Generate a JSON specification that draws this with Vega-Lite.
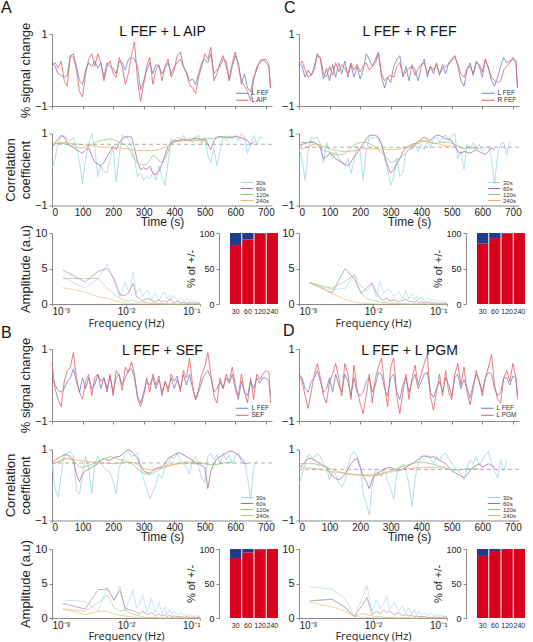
{
"$schema": "https://vega.github.io/schema/vega-lite/v6.json",
"background": "white",
"padding": {"left": 1, "top": 0, "right": 1, "bottom": 0},
"datasets": {
"sigA": [{"t":0,"f":0.2,"r":0.15},{"t":10,"f":0.1,"r":0.2},{"t":20,"f":-0.1,"r":0.05},{"t":30,"f":-0.15,"r":0.25},{"t":40,"f":-0.2,"r":-0.3},{"t":50,"f":-0.15,"r":-0.45},{"t":60,"f":0.4,"r":0.4},{"t":70,"f":0.45,"r":0.35},{"t":80,"f":0.1,"r":0.0},{"t":90,"f":-0.3,"r":-0.6},{"t":100,"f":-0.4,"r":-0.75},{"t":110,"f":0.0,"r":-0.1},{"t":120,"f":0.2,"r":0.3},{"t":130,"f":0.1,"r":0.45},{"t":140,"f":0.25,"r":0.1},{"t":150,"f":0.05,"r":0.45},{"t":160,"f":0.2,"r":0.2},{"t":170,"f":-0.2,"r":-0.3},{"t":180,"f":0.2,"r":0.1},{"t":190,"f":0.1,"r":0.25},{"t":200,"f":0.05,"r":-0.1},{"t":210,"f":-0.1,"r":-0.2},{"t":220,"f":0.25,"r":0.35},{"t":230,"f":0.2,"r":0.1},{"t":240,"f":0.0,"r":-0.4},{"t":250,"f":0.3,"r":-0.1},{"t":260,"f":0.35,"r":0.4},{"t":270,"f":0.3,"r":0.78},{"t":280,"f":0.1,"r":-0.3},{"t":290,"f":-0.55,"r":-0.87},{"t":300,"f":-0.3,"r":-0.4},{"t":310,"f":0.0,"r":0.1},{"t":320,"f":0.2,"r":0.35},{"t":330,"f":-0.1,"r":-0.4},{"t":340,"f":0.15,"r":0.0},{"t":350,"f":0.1,"r":0.15},{"t":360,"f":-0.1,"r":-0.3},{"t":370,"f":0.05,"r":0.1},{"t":380,"f":0.2,"r":0.3},{"t":390,"f":-0.1,"r":-0.2},{"t":400,"f":0.1,"r":0.0},{"t":410,"f":0.2,"r":0.4},{"t":420,"f":0.3,"r":0.5},{"t":430,"f":0.1,"r":0.1},{"t":440,"f":-0.05,"r":-0.1},{"t":450,"f":-0.3,"r":-0.4},{"t":460,"f":-0.25,"r":-0.5},{"t":470,"f":-0.4,"r":-0.65},{"t":480,"f":-0.1,"r":-0.2},{"t":490,"f":0.2,"r":0.1},{"t":500,"f":0.3,"r":0.45},{"t":510,"f":0.2,"r":0.3},{"t":520,"f":0.45,"r":0.63},{"t":530,"f":-0.1,"r":-0.3},{"t":540,"f":0.0,"r":-0.1},{"t":550,"f":0.1,"r":0.2},{"t":560,"f":0.3,"r":0.4},{"t":570,"f":0.25,"r":0.1},{"t":580,"f":-0.3,"r":-0.25},{"t":590,"f":0.1,"r":0.2},{"t":600,"f":0.4,"r":0.5},{"t":610,"f":0.2,"r":0.1},{"t":620,"f":-0.4,"r":-0.3},{"t":630,"f":-0.1,"r":-0.45},{"t":640,"f":-0.5,"r":-0.6},{"t":650,"f":-0.6,"r":-0.85},{"t":660,"f":-0.2,"r":-0.3},{"t":670,"f":0.0,"r":0.1},{"t":680,"f":0.25,"r":0.2},{"t":690,"f":0.3,"r":0.27},{"t":700,"f":0.2,"r":0.3},{"t":710,"f":0.1,"r":0.15},{"t":715,"f":-0.5,"r":-0.5}],
"sigC": [{"t":0,"f":0.2,"r":0.15},{"t":10,"f":0.1,"r":0.25},{"t":20,"f":-0.2,"r":0.0},{"t":30,"f":0.0,"r":-0.2},{"t":40,"f":-0.15,"r":-0.15},{"t":50,"f":0.1,"r":0.0},{"t":60,"f":0.45,"r":0.4},{"t":70,"f":0.3,"r":0.35},{"t":80,"f":-0.25,"r":-0.1},{"t":90,"f":0.05,"r":-0.2},{"t":100,"f":-0.3,"r":0.1},{"t":110,"f":0.15,"r":-0.15},{"t":120,"f":-0.2,"r":0.2},{"t":130,"f":0.2,"r":-0.05},{"t":140,"f":-0.1,"r":0.15},{"t":150,"f":0.25,"r":0.05},{"t":160,"f":-0.2,"r":-0.1},{"t":170,"f":0.15,"r":0.2},{"t":180,"f":-0.2,"r":0.0},{"t":190,"f":0.1,"r":0.15},{"t":200,"f":-0.25,"r":-0.05},{"t":210,"f":0.0,"r":0.1},{"t":220,"f":0.45,"r":0.2},{"t":230,"f":0.3,"r":0.0},{"t":240,"f":0.1,"r":0.1},{"t":250,"f":0.3,"r":0.2},{"t":260,"f":0.5,"r":0.45},{"t":270,"f":-0.2,"r":-0.1},{"t":280,"f":-0.5,"r":-0.3},{"t":290,"f":-0.2,"r":-0.2},{"t":300,"f":-0.35,"r":-0.15},{"t":310,"f":0.1,"r":-0.2},{"t":320,"f":0.3,"r":0.1},{"t":330,"f":0.4,"r":0.2},{"t":340,"f":-0.2,"r":-0.15},{"t":350,"f":0.1,"r":-0.05},{"t":360,"f":-0.3,"r":0.05},{"t":370,"f":0.15,"r":0.1},{"t":380,"f":0.0,"r":-0.15},{"t":390,"f":-0.3,"r":0.05},{"t":400,"f":0.1,"r":0.15},{"t":410,"f":0.3,"r":0.2},{"t":420,"f":-0.2,"r":-0.1},{"t":430,"f":0.1,"r":0.1},{"t":440,"f":-0.1,"r":0.0},{"t":450,"f":0.2,"r":0.15},{"t":460,"f":-0.15,"r":-0.1},{"t":470,"f":0.15,"r":0.05},{"t":480,"f":-0.1,"r":0.1},{"t":490,"f":0.2,"r":0.15},{"t":500,"f":0.3,"r":0.25},{"t":510,"f":0.4,"r":0.38},{"t":520,"f":0.1,"r":0.15},{"t":530,"f":-0.3,"r":-0.1},{"t":540,"f":-0.45,"r":-0.2},{"t":550,"f":0.0,"r":0.05},{"t":560,"f":0.2,"r":0.1},{"t":570,"f":-0.15,"r":-0.1},{"t":580,"f":0.25,"r":0.2},{"t":590,"f":0.1,"r":0.15},{"t":600,"f":-0.2,"r":-0.05},{"t":610,"f":0.3,"r":0.3},{"t":620,"f":0.05,"r":0.05},{"t":630,"f":-0.3,"r":-0.2},{"t":640,"f":-0.45,"r":-0.3},{"t":650,"f":-0.2,"r":-0.35},{"t":660,"f":0.1,"r":-0.3},{"t":670,"f":0.35,"r":0.0},{"t":680,"f":0.2,"r":0.1},{"t":690,"f":0.25,"r":0.2},{"t":700,"f":0.3,"r":0.35},{"t":710,"f":0.2,"r":0.25},{"t":715,"f":-0.5,"r":-0.5}],
"sigB": [{"t":0,"f":0.2,"r":0.6},{"t":10,"f":0.0,"r":-0.1},{"t":20,"f":-0.15,"r":-0.4},{"t":30,"f":-0.2,"r":-0.6},{"t":40,"f":-0.1,"r":0.1},{"t":50,"f":0.1,"r":0.4},{"t":60,"f":0.2,"r":0.5},{"t":70,"f":0.45,"r":0.9},{"t":80,"f":0.1,"r":0.2},{"t":90,"f":-0.2,"r":-0.2},{"t":100,"f":0.2,"r":-0.4},{"t":110,"f":-0.1,"r":0.1},{"t":120,"f":0.2,"r":0.3},{"t":130,"f":-0.1,"r":-0.3},{"t":140,"f":0.0,"r":0.2},{"t":150,"f":0.3,"r":0.3},{"t":160,"f":-0.1,"r":0.1},{"t":170,"f":0.2,"r":0.2},{"t":180,"f":-0.1,"r":-0.2},{"t":190,"f":0.25,"r":0.3},{"t":200,"f":-0.2,"r":-0.3},{"t":210,"f":0.2,"r":0.4},{"t":220,"f":0.3,"r":0.25},{"t":230,"f":0.0,"r":-0.15},{"t":240,"f":0.2,"r":0.5},{"t":250,"f":0.4,"r":0.35},{"t":260,"f":0.45,"r":0.65},{"t":270,"f":0.2,"r":0.3},{"t":280,"f":-0.3,"r":-0.4},{"t":290,"f":-0.5,"r":-0.6},{"t":300,"f":-0.2,"r":-0.3},{"t":310,"f":0.1,"r":0.2},{"t":320,"f":0.0,"r":-0.2},{"t":330,"f":0.2,"r":0.3},{"t":340,"f":-0.1,"r":0.0},{"t":350,"f":0.15,"r":0.25},{"t":360,"f":-0.2,"r":-0.3},{"t":370,"f":0.1,"r":0.1},{"t":380,"f":-0.1,"r":-0.2},{"t":390,"f":0.2,"r":0.3},{"t":400,"f":-0.1,"r":0.1},{"t":410,"f":0.15,"r":0.25},{"t":420,"f":-0.1,"r":-0.2},{"t":430,"f":0.3,"r":0.4},{"t":440,"f":0.0,"r":0.2},{"t":450,"f":0.3,"r":0.75},{"t":460,"f":-0.1,"r":0.0},{"t":470,"f":-0.4,"r":-0.4},{"t":480,"f":-0.2,"r":-0.1},{"t":490,"f":0.1,"r":0.3},{"t":500,"f":0.3,"r":0.5},{"t":510,"f":0.4,"r":0.9},{"t":520,"f":0.2,"r":0.3},{"t":530,"f":-0.2,"r":-0.3},{"t":540,"f":-0.1,"r":-0.5},{"t":550,"f":0.1,"r":0.2},{"t":560,"f":-0.1,"r":-0.1},{"t":570,"f":0.2,"r":0.3},{"t":580,"f":0.05,"r":0.1},{"t":590,"f":0.3,"r":0.5},{"t":600,"f":-0.1,"r":0.0},{"t":610,"f":-0.4,"r":-0.3},{"t":620,"f":0.1,"r":0.3},{"t":630,"f":-0.2,"r":-0.2},{"t":640,"f":-0.3,"r":-0.5},{"t":650,"f":0.1,"r":0.2},{"t":660,"f":-0.1,"r":-0.4},{"t":670,"f":0.2,"r":0.3},{"t":680,"f":0.05,"r":0.15},{"t":690,"f":0.2,"r":0.3},{"t":700,"f":0.2,"r":0.4},{"t":710,"f":0.1,"r":0.35},{"t":715,"f":-0.3,"r":-0.5}],
"sigD": [{"t":0,"f":0.3,"r":0.3},{"t":10,"f":0.2,"r":0.1},{"t":20,"f":-0.1,"r":-0.3},{"t":30,"f":-0.2,"r":-0.65},{"t":40,"f":0.1,"r":-0.2},{"t":50,"f":0.2,"r":0.3},{"t":60,"f":0.4,"r":0.6},{"t":70,"f":0.1,"r":0.2},{"t":80,"f":-0.2,"r":-0.3},{"t":90,"f":-0.1,"r":-0.5},{"t":100,"f":0.2,"r":0.1},{"t":110,"f":-0.2,"r":0.3},{"t":120,"f":0.3,"r":0.6},{"t":130,"f":0.0,"r":0.2},{"t":140,"f":-0.2,"r":-0.3},{"t":150,"f":0.3,"r":0.6},{"t":160,"f":0.1,"r":0.3},{"t":170,"f":-0.3,"r":-0.4},{"t":180,"f":0.2,"r":0.55},{"t":190,"f":-0.2,"r":-0.1},{"t":200,"f":-0.3,"r":-0.5},{"t":210,"f":-0.2,"r":-0.8},{"t":220,"f":0.1,"r":-0.3},{"t":230,"f":0.2,"r":0.3},{"t":240,"f":-0.2,"r":-0.5},{"t":250,"f":0.0,"r":0.2},{"t":260,"f":0.35,"r":0.5},{"t":270,"f":0.3,"r":0.75},{"t":280,"f":-0.1,"r":0.0},{"t":290,"f":-0.3,"r":-0.6},{"t":300,"f":0.2,"r":0.5},{"t":310,"f":0.3,"r":0.75},{"t":320,"f":-0.2,"r":-0.3},{"t":330,"f":-0.4,"r":-0.8},{"t":340,"f":0.0,"r":-0.2},{"t":350,"f":0.2,"r":0.3},{"t":360,"f":-0.2,"r":-0.4},{"t":370,"f":0.1,"r":0.2},{"t":380,"f":0.3,"r":0.55},{"t":390,"f":-0.1,"r":0.0},{"t":400,"f":0.1,"r":0.3},{"t":410,"f":0.3,"r":0.6},{"t":420,"f":0.35,"r":0.85},{"t":430,"f":-0.2,"r":-0.3},{"t":440,"f":-0.35,"r":-0.7},{"t":450,"f":-0.1,"r":-0.2},{"t":460,"f":0.1,"r":0.3},{"t":470,"f":-0.2,"r":-0.3},{"t":480,"f":0.2,"r":0.4},{"t":490,"f":0.0,"r":-0.2},{"t":500,"f":-0.3,"r":-0.4},{"t":510,"f":0.2,"r":0.3},{"t":520,"f":0.3,"r":0.6},{"t":530,"f":-0.1,"r":0.0},{"t":540,"f":0.15,"r":0.5},{"t":550,"f":-0.1,"r":-0.2},{"t":560,"f":-0.35,"r":-0.55},{"t":570,"f":0.0,"r":-0.1},{"t":580,"f":0.3,"r":0.4},{"t":590,"f":0.1,"r":0.1},{"t":600,"f":-0.2,"r":-0.3},{"t":610,"f":0.2,"r":0.2},{"t":620,"f":0.35,"r":0.5},{"t":630,"f":0.3,"r":0.85},{"t":640,"f":-0.1,"r":0.0},{"t":650,"f":-0.3,"r":-0.4},{"t":660,"f":-0.2,"r":-0.5},{"t":670,"f":0.2,"r":0.2},{"t":680,"f":0.2,"r":0.4},{"t":690,"f":0.0,"r":0.1},{"t":700,"f":0.25,"r":0.6},{"t":710,"f":0.2,"r":0.2},{"t":715,"f":-0.3,"r":-0.4}],
"corA": [{"t":0,"a":0.0,"b":0.6,"c":0.7,"d":0.7},{"t":10,"a":0.3,"b":0.75,"c":0.72,"d":0.72},{"t":20,"a":0.75,"b":0.85,"c":0.72,"d":0.74},{"t":30,"a":0.9,"b":0.95,"c":0.73,"d":0.75},{"t":40,"a":0.95,"b":0.9,"c":0.72,"d":0.75},{"t":50,"a":0.85,"b":0.75,"c":0.7,"d":0.74},{"t":60,"a":0.8,"b":0.65,"c":0.68,"d":0.73},{"t":70,"a":0.9,"b":0.6,"c":0.65,"d":0.72},{"t":80,"a":0.6,"b":0.55,"c":0.62,"d":0.71},{"t":90,"a":0.2,"b":0.5,"c":0.6,"d":0.7},{"t":100,"a":-0.4,"b":0.45,"c":0.6,"d":0.69},{"t":110,"a":0.3,"b":0.55,"c":0.62,"d":0.68},{"t":120,"a":0.7,"b":0.6,"c":0.65,"d":0.67},{"t":130,"a":1.0,"b":0.4,"c":0.7,"d":0.66},{"t":140,"a":0.6,"b":0.2,"c":0.75,"d":0.65},{"t":150,"a":-0.2,"b":0.15,"c":0.78,"d":0.64},{"t":160,"a":0.1,"b":0.1,"c":0.8,"d":0.63},{"t":170,"a":-0.05,"b":0.2,"c":0.82,"d":0.62},{"t":180,"a":-0.1,"b":0.35,"c":0.84,"d":0.62},{"t":190,"a":0.3,"b":0.5,"c":0.85,"d":0.62},{"t":200,"a":0.6,"b":0.65,"c":0.83,"d":0.61},{"t":210,"a":-0.35,"b":0.55,"c":0.8,"d":0.6},{"t":220,"a":0.4,"b":0.75,"c":0.76,"d":0.6},{"t":230,"a":0.95,"b":0.85,"c":0.72,"d":0.59},{"t":240,"a":0.9,"b":0.9,"c":0.7,"d":0.58},{"t":250,"a":0.85,"b":0.92,"c":0.6,"d":0.57},{"t":260,"a":0.6,"b":0.9,"c":0.45,"d":0.55},{"t":270,"a":0.3,"b":0.6,"c":0.3,"d":0.53},{"t":280,"a":-0.2,"b":0.2,"c":0.2,"d":0.53},{"t":290,"a":-0.1,"b":0.0,"c":0.15,"d":0.53},{"t":300,"a":-0.3,"b":0.05,"c":0.12,"d":0.53},{"t":310,"a":-0.2,"b":0.0,"c":0.15,"d":0.53},{"t":320,"a":-0.25,"b":0.1,"c":0.25,"d":0.53},{"t":330,"a":-0.1,"b":-0.1,"c":0.4,"d":0.53},{"t":340,"a":-0.3,"b":-0.15,"c":0.35,"d":0.54},{"t":350,"a":0.1,"b":-0.05,"c":0.25,"d":0.55},{"t":360,"a":-0.2,"b":0.15,"c":0.2,"d":0.58},{"t":370,"a":-0.45,"b":0.4,"c":0.3,"d":0.62},{"t":380,"a":0.2,"b":0.65,"c":0.5,"d":0.66},{"t":390,"a":0.85,"b":0.75,"c":0.72,"d":0.72},{"t":400,"a":0.8,"b":0.8,"c":0.77,"d":0.76},{"t":410,"a":0.9,"b":0.8,"c":0.78,"d":0.78},{"t":420,"a":0.85,"b":0.82,"c":0.8,"d":0.79},{"t":430,"a":0.95,"b":0.85,"c":0.8,"d":0.8},{"t":440,"a":0.8,"b":0.82,"c":0.82,"d":0.8},{"t":450,"a":0.9,"b":0.8,"c":0.83,"d":0.8},{"t":460,"a":0.75,"b":0.85,"c":0.84,"d":0.8},{"t":470,"a":0.9,"b":0.88,"c":0.85,"d":0.8},{"t":480,"a":0.95,"b":0.85,"c":0.85,"d":0.8},{"t":490,"a":0.7,"b":0.83,"c":0.84,"d":0.8},{"t":500,"a":0.9,"b":0.85,"c":0.85,"d":0.8},{"t":510,"a":0.4,"b":0.7,"c":0.86,"d":0.8},{"t":520,"a":0.2,"b":0.55,"c":0.86,"d":null},{"t":530,"a":0.6,"b":0.8,"c":0.87,"d":null},{"t":540,"a":0.1,"b":0.9,"c":0.88,"d":null},{"t":550,"a":0.5,"b":0.92,"c":0.9,"d":null},{"t":560,"a":0.9,"b":0.9,"c":0.9,"d":null},{"t":570,"a":0.8,"b":0.9,"c":0.9,"d":null},{"t":580,"a":0.95,"b":0.88,"c":0.9,"d":null},{"t":590,"a":0.85,"b":0.9,"c":0.9,"d":null},{"t":600,"a":0.95,"b":0.92,"c":null,"d":null},{"t":610,"a":0.8,"b":0.9,"c":null,"d":null},{"t":620,"a":1.0,"b":0.88,"c":null,"d":null},{"t":630,"a":0.9,"b":0.85,"c":null,"d":null},{"t":640,"a":0.45,"b":0.8,"c":null,"d":null},{"t":650,"a":0.7,"b":0.7,"c":null,"d":null},{"t":660,"a":0.95,"b":0.75,"c":null,"d":null},{"t":670,"a":0.7,"b":null,"c":null,"d":null},{"t":680,"a":0.9,"b":null,"c":null,"d":null},{"t":690,"a":0.85,"b":null,"c":null,"d":null}],
"corC": [{"t":0,"a":0.6,"b":0.65,"c":0.75,"d":0.55},{"t":10,"a":0.3,"b":0.7,"c":0.75,"d":0.57},{"t":20,"a":-0.3,"b":0.72,"c":0.75,"d":0.6},{"t":30,"a":0.5,"b":0.75,"c":0.75,"d":0.63},{"t":40,"a":0.9,"b":0.78,"c":0.75,"d":0.67},{"t":50,"a":0.85,"b":0.75,"c":0.74,"d":0.7},{"t":60,"a":0.9,"b":0.7,"c":0.7,"d":0.7},{"t":70,"a":0.7,"b":0.6,"c":0.62,"d":0.68},{"t":80,"a":0.2,"b":0.3,"c":0.55,"d":0.64},{"t":90,"a":0.75,"b":0.35,"c":0.5,"d":0.6},{"t":100,"a":0.5,"b":0.45,"c":0.48,"d":0.58},{"t":110,"a":0.3,"b":0.4,"c":0.45,"d":0.56},{"t":120,"a":0.5,"b":0.3,"c":0.42,"d":0.54},{"t":130,"a":0.3,"b":0.25,"c":0.4,"d":0.52},{"t":140,"a":0.2,"b":0.2,"c":0.42,"d":0.5},{"t":150,"a":0.1,"b":0.15,"c":0.45,"d":0.5},{"t":160,"a":0.3,"b":0.1,"c":0.5,"d":0.5},{"t":170,"a":-0.1,"b":0.2,"c":0.6,"d":0.51},{"t":180,"a":0.2,"b":0.35,"c":0.68,"d":0.52},{"t":190,"a":0.65,"b":0.45,"c":0.72,"d":0.54},{"t":200,"a":0.5,"b":0.6,"c":0.75,"d":0.56},{"t":210,"a":-0.3,"b":0.7,"c":0.76,"d":0.57},{"t":220,"a":0.5,"b":0.85,"c":0.75,"d":0.58},{"t":230,"a":0.9,"b":0.95,"c":0.72,"d":0.58},{"t":240,"a":0.85,"b":0.95,"c":0.68,"d":0.58},{"t":250,"a":0.9,"b":0.95,"c":0.62,"d":0.58},{"t":260,"a":0.85,"b":0.9,"c":0.55,"d":0.57},{"t":270,"a":0.7,"b":0.7,"c":0.45,"d":0.56},{"t":280,"a":0.3,"b":0.4,"c":0.38,"d":0.56},{"t":290,"a":0.0,"b":0.1,"c":0.3,"d":0.55},{"t":300,"a":-0.45,"b":-0.1,"c":0.2,"d":0.55},{"t":310,"a":-0.2,"b":0.0,"c":0.22,"d":0.55},{"t":320,"a":0.3,"b":0.15,"c":0.28,"d":0.56},{"t":330,"a":-0.2,"b":0.3,"c":0.32,"d":0.58},{"t":340,"a":-0.1,"b":0.5,"c":0.38,"d":0.6},{"t":350,"a":0.5,"b":0.6,"c":0.45,"d":0.62},{"t":360,"a":0.6,"b":0.65,"c":0.55,"d":0.64},{"t":370,"a":0.55,"b":0.7,"c":0.62,"d":0.66},{"t":380,"a":0.7,"b":0.72,"c":0.7,"d":0.68},{"t":390,"a":0.5,"b":0.75,"c":0.78,"d":0.72},{"t":400,"a":0.7,"b":0.85,"c":0.8,"d":0.76},{"t":410,"a":0.55,"b":0.9,"c":0.8,"d":0.78},{"t":420,"a":0.8,"b":0.85,"c":0.78,"d":0.78},{"t":430,"a":0.6,"b":0.8,"c":0.75,"d":0.76},{"t":440,"a":0.85,"b":0.9,"c":0.72,"d":0.74},{"t":450,"a":0.9,"b":0.95,"c":0.72,"d":0.72},{"t":460,"a":0.75,"b":0.95,"c":0.74,"d":0.7},{"t":470,"a":0.9,"b":0.9,"c":0.75,"d":0.68},{"t":480,"a":0.95,"b":0.85,"c":0.76,"d":0.66},{"t":490,"a":0.8,"b":0.85,"c":0.75,"d":0.65},{"t":500,"a":0.95,"b":0.8,"c":0.73,"d":0.64},{"t":510,"a":1.0,"b":0.65,"c":0.7,"d":null},{"t":520,"a":0.3,"b":0.5,"c":0.65,"d":null},{"t":530,"a":0.5,"b":0.45,"c":0.6,"d":null},{"t":540,"a":0.0,"b":0.5,"c":0.58,"d":null},{"t":550,"a":0.7,"b":0.48,"c":0.6,"d":null},{"t":560,"a":0.55,"b":0.45,"c":0.62,"d":null},{"t":570,"a":0.75,"b":0.5,"c":0.6,"d":null},{"t":580,"a":0.6,"b":0.55,"c":0.58,"d":null},{"t":590,"a":0.7,"b":0.5,"c":0.6,"d":null},{"t":600,"a":0.5,"b":0.45,"c":null,"d":null},{"t":610,"a":0.6,"b":0.42,"c":null,"d":null},{"t":620,"a":0.65,"b":0.5,"c":null,"d":null},{"t":630,"a":0.3,"b":0.6,"c":null,"d":null},{"t":640,"a":-0.4,"b":0.55,"c":null,"d":null},{"t":650,"a":0.4,"b":null,"c":null,"d":null},{"t":660,"a":0.7,"b":null,"c":null,"d":null},{"t":670,"a":0.75,"b":null,"c":null,"d":null},{"t":680,"a":0.4,"b":null,"c":null,"d":null},{"t":690,"a":0.8,"b":null,"c":null,"d":null}],
"corB": [{"t":0,"a":0.7,"b":0.65,"c":0.6,"d":0.6},{"t":10,"a":-0.1,"b":0.7,"c":0.62,"d":0.62},{"t":20,"a":-0.35,"b":0.75,"c":0.66,"d":0.65},{"t":30,"a":0.3,"b":0.8,"c":0.7,"d":0.68},{"t":40,"a":0.85,"b":0.85,"c":0.74,"d":0.72},{"t":50,"a":0.9,"b":0.85,"c":0.75,"d":0.75},{"t":60,"a":0.95,"b":0.8,"c":0.72,"d":0.74},{"t":70,"a":0.85,"b":0.7,"c":0.66,"d":0.72},{"t":80,"a":-0.15,"b":0.3,"c":0.6,"d":0.7},{"t":90,"a":-0.25,"b":0.1,"c":0.52,"d":0.69},{"t":100,"a":0.3,"b":0.3,"c":0.5,"d":0.68},{"t":110,"a":0.8,"b":0.4,"c":0.52,"d":0.67},{"t":120,"a":0.5,"b":0.45,"c":0.55,"d":0.66},{"t":130,"a":-0.25,"b":0.5,"c":0.58,"d":0.65},{"t":140,"a":0.6,"b":0.55,"c":0.62,"d":0.64},{"t":150,"a":0.8,"b":0.6,"c":0.66,"d":0.63},{"t":160,"a":0.6,"b":0.7,"c":0.7,"d":0.62},{"t":170,"a":0.5,"b":0.75,"c":0.74,"d":0.62},{"t":180,"a":0.4,"b":0.7,"c":0.77,"d":0.62},{"t":190,"a":0.35,"b":0.7,"c":0.8,"d":0.61},{"t":200,"a":0.1,"b":0.75,"c":0.78,"d":0.6},{"t":210,"a":-0.25,"b":0.8,"c":0.75,"d":0.6},{"t":220,"a":0.5,"b":0.8,"c":0.72,"d":0.61},{"t":230,"a":0.7,"b":0.85,"c":0.7,"d":0.62},{"t":240,"a":0.85,"b":0.95,"c":0.68,"d":0.63},{"t":250,"a":0.95,"b":1.0,"c":0.65,"d":0.64},{"t":260,"a":0.8,"b":0.95,"c":0.6,"d":0.64},{"t":270,"a":0.85,"b":0.85,"c":0.55,"d":0.62},{"t":280,"a":0.9,"b":0.75,"c":0.45,"d":0.58},{"t":290,"a":0.5,"b":0.55,"c":0.38,"d":0.52},{"t":300,"a":0.15,"b":0.4,"c":0.33,"d":0.47},{"t":310,"a":-0.1,"b":0.35,"c":0.3,"d":0.45},{"t":320,"a":-0.4,"b":0.33,"c":0.3,"d":0.43},{"t":330,"a":-0.2,"b":0.4,"c":0.33,"d":0.44},{"t":340,"a":0.0,"b":0.45,"c":0.38,"d":0.47},{"t":350,"a":0.3,"b":0.48,"c":0.42,"d":0.5},{"t":360,"a":0.2,"b":0.5,"c":0.47,"d":0.53},{"t":370,"a":0.5,"b":0.6,"c":0.5,"d":0.55},{"t":380,"a":0.6,"b":0.75,"c":0.52,"d":0.56},{"t":390,"a":0.8,"b":0.8,"c":0.55,"d":0.57},{"t":400,"a":0.75,"b":0.85,"c":0.58,"d":0.58},{"t":410,"a":0.9,"b":0.9,"c":0.6,"d":0.59},{"t":420,"a":0.7,"b":0.9,"c":0.62,"d":0.6},{"t":430,"a":0.6,"b":0.85,"c":0.63,"d":0.6},{"t":440,"a":0.5,"b":0.8,"c":0.64,"d":0.6},{"t":450,"a":0.3,"b":0.75,"c":0.65,"d":0.6},{"t":460,"a":0.7,"b":0.7,"c":0.66,"d":0.6},{"t":470,"a":0.8,"b":0.6,"c":0.65,"d":0.6},{"t":480,"a":0.5,"b":0.6,"c":0.64,"d":0.6},{"t":490,"a":0.2,"b":0.55,"c":0.62,"d":0.6},{"t":500,"a":0.05,"b":0.5,"c":0.6,"d":0.6},{"t":510,"a":0.8,"b":-0.1,"c":0.58,"d":null},{"t":520,"a":0.9,"b":0.4,"c":0.57,"d":null},{"t":530,"a":0.7,"b":0.6,"c":0.57,"d":null},{"t":540,"a":0.85,"b":0.75,"c":0.58,"d":null},{"t":550,"a":0.6,"b":0.8,"c":0.6,"d":null},{"t":560,"a":0.9,"b":0.85,"c":0.62,"d":null},{"t":570,"a":0.7,"b":0.9,"c":0.63,"d":null},{"t":580,"a":0.85,"b":0.95,"c":0.64,"d":null},{"t":590,"a":0.6,"b":0.95,"c":0.65,"d":null},{"t":600,"a":0.8,"b":0.9,"c":null,"d":null},{"t":610,"a":0.9,"b":0.85,"c":null,"d":null},{"t":620,"a":0.75,"b":0.7,"c":null,"d":null},{"t":630,"a":0.7,"b":0.6,"c":null,"d":null},{"t":640,"a":0.2,"b":0.6,"c":null,"d":null},{"t":650,"a":-0.4,"b":null,"c":null,"d":null},{"t":660,"a":0.5,"b":null,"c":null,"d":null},{"t":670,"a":0.7,"b":null,"c":null,"d":null}],
"corD": [{"t":0,"a":0.0,"b":0.5,"c":0.6,"d":0.5},{"t":10,"a":0.3,"b":0.55,"c":0.6,"d":0.5},{"t":20,"a":0.6,"b":0.65,"c":0.6,"d":0.49},{"t":30,"a":0.85,"b":0.75,"c":0.6,"d":0.48},{"t":40,"a":0.8,"b":0.75,"c":0.6,"d":0.47},{"t":50,"a":0.75,"b":0.7,"c":0.6,"d":0.46},{"t":60,"a":0.9,"b":0.65,"c":0.58,"d":0.45},{"t":70,"a":0.8,"b":0.6,"c":0.55,"d":0.44},{"t":80,"a":0.6,"b":0.55,"c":0.52,"d":0.42},{"t":90,"a":0.5,"b":0.5,"c":0.5,"d":0.4},{"t":100,"a":0.15,"b":0.35,"c":0.47,"d":0.38},{"t":110,"a":0.4,"b":0.25,"c":0.44,"d":0.37},{"t":120,"a":0.3,"b":0.18,"c":0.41,"d":0.36},{"t":130,"a":0.05,"b":0.15,"c":0.38,"d":0.35},{"t":140,"a":-0.05,"b":0.2,"c":0.35,"d":0.34},{"t":150,"a":0.1,"b":0.3,"c":0.33,"d":0.33},{"t":160,"a":0.5,"b":0.45,"c":0.31,"d":0.32},{"t":170,"a":0.85,"b":0.6,"c":0.3,"d":0.31},{"t":180,"a":0.95,"b":0.7,"c":0.29,"d":0.3},{"t":190,"a":0.8,"b":0.75,"c":0.28,"d":0.3},{"t":200,"a":0.6,"b":0.5,"c":0.28,"d":0.29},{"t":210,"a":-0.25,"b":0.25,"c":0.28,"d":0.28},{"t":220,"a":-0.5,"b":0.1,"c":0.27,"d":0.28},{"t":230,"a":-0.85,"b":-0.1,"c":0.26,"d":0.28},{"t":240,"a":0.0,"b":0.15,"c":0.25,"d":0.29},{"t":250,"a":0.45,"b":0.3,"c":0.26,"d":0.3},{"t":260,"a":0.3,"b":0.35,"c":0.28,"d":0.31},{"t":270,"a":0.25,"b":0.4,"c":0.3,"d":0.33},{"t":280,"a":0.5,"b":0.45,"c":0.33,"d":0.34},{"t":290,"a":0.1,"b":0.48,"c":0.37,"d":0.36},{"t":300,"a":-0.1,"b":0.5,"c":0.4,"d":0.37},{"t":310,"a":-0.4,"b":0.45,"c":0.43,"d":0.38},{"t":320,"a":0.3,"b":0.4,"c":0.46,"d":0.4},{"t":330,"a":0.5,"b":0.42,"c":0.5,"d":0.42},{"t":340,"a":0.6,"b":0.45,"c":0.53,"d":0.44},{"t":350,"a":0.4,"b":0.5,"c":0.55,"d":0.45},{"t":360,"a":0.0,"b":0.55,"c":0.58,"d":0.46},{"t":370,"a":-0.6,"b":0.6,"c":0.6,"d":0.47},{"t":380,"a":0.2,"b":0.65,"c":0.62,"d":0.48},{"t":390,"a":0.6,"b":0.72,"c":0.64,"d":0.49},{"t":400,"a":0.8,"b":0.8,"c":0.65,"d":0.5},{"t":410,"a":0.7,"b":0.82,"c":0.64,"d":0.5},{"t":420,"a":0.85,"b":0.8,"c":0.62,"d":0.5},{"t":430,"a":0.75,"b":0.78,"c":0.6,"d":0.5},{"t":440,"a":0.6,"b":0.8,"c":0.58,"d":0.5},{"t":450,"a":0.8,"b":0.75,"c":0.56,"d":0.5},{"t":460,"a":0.7,"b":0.7,"c":0.53,"d":0.5},{"t":470,"a":0.85,"b":0.65,"c":0.5,"d":0.5},{"t":480,"a":0.9,"b":0.6,"c":0.47,"d":0.5},{"t":490,"a":0.75,"b":0.5,"c":0.45,"d":null},{"t":500,"a":0.6,"b":0.4,"c":0.43,"d":null},{"t":510,"a":0.5,"b":0.35,"c":0.42,"d":null},{"t":520,"a":0.4,"b":0.3,"c":0.42,"d":null},{"t":530,"a":0.3,"b":0.25,"c":0.43,"d":null},{"t":540,"a":0.15,"b":0.2,"c":0.44,"d":null},{"t":550,"a":0.5,"b":0.3,"c":0.45,"d":null},{"t":560,"a":0.7,"b":0.4,"c":0.46,"d":null},{"t":570,"a":0.6,"b":0.5,"c":0.46,"d":null},{"t":580,"a":0.8,"b":0.55,"c":0.45,"d":null},{"t":590,"a":0.55,"b":0.6,"c":0.45,"d":null},{"t":600,"a":0.7,"b":0.5,"c":null,"d":null},{"t":610,"a":0.85,"b":0.55,"c":null,"d":null},{"t":620,"a":0.95,"b":0.6,"c":null,"d":null},{"t":630,"a":0.6,"b":0.55,"c":null,"d":null},{"t":640,"a":0.4,"b":0.5,"c":null,"d":null},{"t":650,"a":0.2,"b":null,"c":null,"d":null},{"t":660,"a":0.7,"b":null,"c":null,"d":null},{"t":670,"a":0.4,"b":null,"c":null,"d":null},{"t":680,"a":0.7,"b":null,"c":null,"d":null}],
"ampA": [{"f":0.0014,"a":3.8,"b":4.8,"c":3.6,"d":2.3},{"f":0.0028,"a":2.2,"b":3.1,"c":3.6,"d":1.7},{"f":0.0042,"a":3.6,"b":4.6,"c":3.6,"d":1.0},{"f":0.0056,"a":5.7,"b":5.0,"c":2.2,"d":0.8},{"f":0.0069,"a":3.1,"b":3.6,"c":1.4,"d":0.5},{"f":0.0083,"a":1.0,"b":1.3,"c":0.8,"d":0.3},{"f":0.0097,"a":3.1,"b":1.2,"c":0.5,"d":0.1},{"f":0.0111,"a":1.5,"b":1.8,"c":0.4,"d":0.1},{"f":0.0125,"a":4.5,"b":2.9,"c":0.6,"d":0.05},{"f":0.0139,"a":1.5,"b":1.0,"c":0.3,"d":0.05},{"f":0.0153,"a":2.2,"b":0.8,"c":0.2,"d":0},{"f":0.0167,"a":1.0,"b":0.4,"c":0.3,"d":0},{"f":0.0194,"a":2.0,"b":0.8,"c":0.2,"d":0},{"f":0.0222,"a":0.6,"b":0.5,"c":0.1,"d":0},{"f":0.025,"a":1.5,"b":0.3,"c":0.1,"d":0},{"f":0.0278,"a":0.5,"b":0.6,"c":0.1,"d":0},{"f":0.0306,"a":1.2,"b":0.3,"c":0.05,"d":0},{"f":0.0333,"a":1.7,"b":0.5,"c":0.05,"d":0},{"f":0.0361,"a":0.8,"b":0.2,"c":0,"d":0},{"f":0.0389,"a":1.3,"b":0.8,"c":0,"d":0},{"f":0.0417,"a":0.6,"b":0.3,"c":0,"d":0},{"f":0.0444,"a":1.2,"b":0.2,"c":0,"d":0},{"f":0.05,"a":0.5,"b":0.4,"c":0,"d":0},{"f":0.0556,"a":0.9,"b":0.2,"c":0,"d":0},{"f":0.0611,"a":0.4,"b":0.3,"c":0,"d":0},{"f":0.0667,"a":0.8,"b":0.1,"c":0,"d":0},{"f":0.0722,"a":0.3,"b":0.2,"c":0,"d":0},{"f":0.0778,"a":0.6,"b":0.1,"c":0,"d":0},{"f":0.0833,"a":0.3,"b":0.2,"c":0,"d":0},{"f":0.0889,"a":0.5,"b":0.1,"c":0,"d":0},{"f":0.0944,"a":0.2,"b":0.1,"c":0,"d":0},{"f":0.1,"a":0.3,"b":0.1,"c":0,"d":0}],
"ampC": [{"f":0.0014,"a":3.0,"b":3.0,"c":3.0,"d":3.0},{"f":0.0028,"a":2.0,"b":1.6,"c":2.2,"d":1.5},{"f":0.0042,"a":2.2,"b":5.0,"c":3.2,"d":0.6},{"f":0.0056,"a":4.1,"b":3.5,"c":4.1,"d":0.3},{"f":0.0069,"a":2.5,"b":1.5,"c":1.5,"d":0.1},{"f":0.0083,"a":1.8,"b":2.3,"c":0.8,"d":0.1},{"f":0.0097,"a":2.8,"b":3.0,"c":0.5,"d":0.05},{"f":0.0111,"a":1.0,"b":1.6,"c":0.4,"d":0},{"f":0.0125,"a":3.2,"b":0.8,"c":0.3,"d":0},{"f":0.0139,"a":1.5,"b":0.5,"c":0.2,"d":0},{"f":0.0153,"a":2.0,"b":0.9,"c":0.2,"d":0},{"f":0.0167,"a":2.1,"b":0.4,"c":0.1,"d":0},{"f":0.0194,"a":1.0,"b":0.6,"c":0.1,"d":0},{"f":0.0222,"a":1.8,"b":0.3,"c":0.1,"d":0},{"f":0.025,"a":0.8,"b":0.5,"c":0,"d":0},{"f":0.0278,"a":1.9,"b":0.7,"c":0,"d":0},{"f":0.0306,"a":0.7,"b":0.3,"c":0,"d":0},{"f":0.0333,"a":1.5,"b":0.4,"c":0,"d":0},{"f":0.0361,"a":0.5,"b":0.2,"c":0,"d":0},{"f":0.0389,"a":1.2,"b":0.5,"c":0,"d":0},{"f":0.0417,"a":0.6,"b":0.2,"c":0,"d":0},{"f":0.0444,"a":1.0,"b":0.3,"c":0,"d":0},{"f":0.05,"a":0.4,"b":0.2,"c":0,"d":0},{"f":0.0556,"a":0.9,"b":0.3,"c":0,"d":0},{"f":0.0611,"a":0.4,"b":0.1,"c":0,"d":0},{"f":0.0667,"a":0.7,"b":0.2,"c":0,"d":0},{"f":0.0722,"a":0.3,"b":0.1,"c":0,"d":0},{"f":0.0778,"a":0.5,"b":0.1,"c":0,"d":0},{"f":0.0833,"a":0.3,"b":0.1,"c":0,"d":0},{"f":0.0889,"a":0.4,"b":0.1,"c":0,"d":0},{"f":0.0944,"a":0.2,"b":0.1,"c":0,"d":0},{"f":0.1,"a":0.3,"b":0.1,"c":0,"d":0}],
"ampB": [{"f":0.0014,"a":2.6,"b":2.1,"c":1.3,"d":1.3},{"f":0.0028,"a":2.4,"b":1.3,"c":1.0,"d":0.5},{"f":0.0042,"a":1.0,"b":4.1,"c":2.2,"d":0.9},{"f":0.0056,"a":4.5,"b":4.2,"c":3.3,"d":1.0},{"f":0.0069,"a":2.5,"b":2.6,"c":1.5,"d":0.6},{"f":0.0083,"a":4.6,"b":4.0,"c":1.0,"d":0.4},{"f":0.0097,"a":1.1,"b":1.5,"c":1.2,"d":0.3},{"f":0.0111,"a":2.5,"b":1.2,"c":0.8,"d":0.2},{"f":0.0125,"a":4.0,"b":1.1,"c":0.5,"d":0.1},{"f":0.0139,"a":1.4,"b":0.8,"c":0.4,"d":0.1},{"f":0.0153,"a":2.0,"b":0.6,"c":0.3,"d":0.05},{"f":0.0167,"a":3.3,"b":1.0,"c":0.2,"d":0},{"f":0.0194,"a":0.9,"b":0.5,"c":0.1,"d":0},{"f":0.0222,"a":2.8,"b":0.8,"c":0.1,"d":0},{"f":0.025,"a":0.8,"b":0.3,"c":0.1,"d":0},{"f":0.0278,"a":2.3,"b":0.6,"c":0,"d":0},{"f":0.0306,"a":0.6,"b":0.3,"c":0,"d":0},{"f":0.0333,"a":1.6,"b":0.5,"c":0,"d":0},{"f":0.0361,"a":0.5,"b":0.2,"c":0,"d":0},{"f":0.0389,"a":1.3,"b":0.4,"c":0,"d":0},{"f":0.0417,"a":0.5,"b":0.2,"c":0,"d":0},{"f":0.0444,"a":1.0,"b":0.3,"c":0,"d":0},{"f":0.05,"a":0.4,"b":0.2,"c":0,"d":0},{"f":0.0556,"a":0.8,"b":0.2,"c":0,"d":0},{"f":0.0611,"a":0.3,"b":0.1,"c":0,"d":0},{"f":0.0667,"a":0.6,"b":0.2,"c":0,"d":0},{"f":0.0722,"a":0.3,"b":0.1,"c":0,"d":0},{"f":0.0778,"a":0.5,"b":0.1,"c":0,"d":0},{"f":0.0833,"a":0.2,"b":0.1,"c":0,"d":0},{"f":0.0889,"a":0.4,"b":0.1,"c":0,"d":0},{"f":0.0944,"a":0.2,"b":0.1,"c":0,"d":0},{"f":0.1,"a":0.3,"b":0.1,"c":0,"d":0}],
"ampD": [{"f":0.0014,"a":4.5,"b":2.5,"c":2.5,"d":2.3},{"f":0.0028,"a":4.2,"b":2.7,"c":2.7,"d":1.6},{"f":0.0042,"a":2.8,"b":1.5,"c":1.6,"d":1.0},{"f":0.0056,"a":0.3,"b":0.2,"c":0.2,"d":0.2},{"f":0.0069,"a":2.5,"b":1.6,"c":0.6,"d":0.1},{"f":0.0083,"a":4.7,"b":3.0,"c":0.5,"d":0.1},{"f":0.0097,"a":1.0,"b":0.5,"c":0.3,"d":0.05},{"f":0.0111,"a":2.7,"b":1.0,"c":0.2,"d":0},{"f":0.0125,"a":1.3,"b":0.6,"c":0.2,"d":0},{"f":0.0139,"a":2.0,"b":1.2,"c":0.1,"d":0},{"f":0.0153,"a":3.2,"b":0.8,"c":0.1,"d":0},{"f":0.0167,"a":1.2,"b":1.0,"c":0.1,"d":0},{"f":0.0194,"a":2.2,"b":0.5,"c":0.05,"d":0},{"f":0.0222,"a":1.0,"b":0.8,"c":0,"d":0},{"f":0.025,"a":1.8,"b":0.3,"c":0,"d":0},{"f":0.0278,"a":0.7,"b":0.5,"c":0,"d":0},{"f":0.0306,"a":1.5,"b":0.3,"c":0,"d":0},{"f":0.0333,"a":0.6,"b":0.4,"c":0,"d":0},{"f":0.0361,"a":1.2,"b":0.2,"c":0,"d":0},{"f":0.0389,"a":0.5,"b":0.3,"c":0,"d":0},{"f":0.0417,"a":1.0,"b":0.2,"c":0,"d":0},{"f":0.0444,"a":0.4,"b":0.2,"c":0,"d":0},{"f":0.05,"a":0.8,"b":0.2,"c":0,"d":0},{"f":0.0556,"a":0.4,"b":0.1,"c":0,"d":0},{"f":0.0611,"a":0.7,"b":0.1,"c":0,"d":0},{"f":0.0667,"a":0.3,"b":0.1,"c":0,"d":0},{"f":0.0722,"a":0.5,"b":0.1,"c":0,"d":0},{"f":0.0778,"a":0.3,"b":0.1,"c":0,"d":0},{"f":0.0833,"a":0.4,"b":0.1,"c":0,"d":0},{"f":0.0889,"a":0.2,"b":0.1,"c":0,"d":0},{"f":0.0944,"a":0.3,"b":0.1,"c":0,"d":0},{"f":0.1,"a":0.2,"b":0.1,"c":0,"d":0}],
"barA": [{"w":"30","s":"pos","p":83},{"w":"30","s":"neg","p":17},{"w":"60","s":"pos","p":91},{"w":"60","s":"neg","p":9},{"w":"120","s":"pos","p":99},{"w":"120","s":"neg","p":1},{"w":"240","s":"pos","p":100},{"w":"240","s":"neg","p":0}],
"barB": [{"w":"30","s":"pos","p":87},{"w":"30","s":"neg","p":13},{"w":"60","s":"pos","p":95},{"w":"60","s":"neg","p":5},{"w":"120","s":"pos","p":99.5},{"w":"120","s":"neg","p":0.5},{"w":"240","s":"pos","p":100},{"w":"240","s":"neg","p":0}],
"barC": [{"w":"30","s":"pos","p":85},{"w":"30","s":"neg","p":15},{"w":"60","s":"pos","p":93},{"w":"60","s":"neg","p":7},{"w":"120","s":"pos","p":99},{"w":"120","s":"neg","p":1},{"w":"240","s":"pos","p":100},{"w":"240","s":"neg","p":0}],
"barD": [{"w":"30","s":"pos","p":90},{"w":"30","s":"neg","p":10},{"w":"60","s":"pos","p":97},{"w":"60","s":"neg","p":3},{"w":"120","s":"pos","p":100},{"w":"120","s":"neg","p":0},{"w":"240","s":"pos","p":100},{"w":"240","s":"neg","p":0}]
},
"vconcat": [
 {"hconcat": [
  {"title": {"text": "A", "anchor": "start", "frame": "group", "dx": -51, "fontSize": 16, "offset": 6},
   "bounds": "flush", "spacing": 27.5, "resolve": {"scale": {"color": "independent"}},
   "vconcat": [
    {"width": 220, "height": 72, "resolve": {"axis": {"x": "independent"}}, "layer": [
      {"data": {"name": "sigA"}, "transform": [{"fold": ["f","r"], "as": ["k","v"]}], "mark": {"type": "line", "strokeWidth": 0.8},
       "encoding": {"x": {"field": "t", "type": "quantitative", "scale": {"domain": [0,720], "nice": false}, "axis": {"values": [0,100,200,300,400,500,600,700], "labels": false, "title": null}},
        "y": {"field": "v", "type": "quantitative", "scale": {"domain": [-1,1], "nice": false}, "axis": {"values": [-1,0,1], "format": "d", "title": "% signal change", "minExtent": 15}},
        "color": {"field": "k", "type": "nominal", "scale": {"domain": ["f","r"], "range": ["#6f7fbd","#e35d66"]}, "legend": {"orient": "bottom-right", "title": null, "labelExpr": "datum.value=='f'?'L FEF':'L AIP'"}}}},
      {"data": {"values": [{"t": 0}]}, "mark": {"type": "point", "opacity": 0},
       "encoding": {"x": {"field": "t", "type": "quantitative", "scale": {"domain": [0,720], "nice": false}, "axis": {"orient": "top", "labels": false, "ticks": false, "domain": false, "title": "L FEF + L AIP", "titleFontSize": 14, "titlePadding": -4, "titleColor": "#111"}}}}
    ]},
    {"width": 220, "height": 72, "layer": [
      {"data": {"name": "corA"}, "transform": [{"fold": ["a","b","c","d"], "as": ["k","v"]}], "mark": {"type": "line", "strokeWidth": 0.8},
       "encoding": {"x": {"field": "t", "type": "quantitative", "scale": {"domain": [0,720], "nice": false}, "axis": {"values": [0,100,200,300,400,500,600,700], "title": "Time (s)", "tickSize": 2, "labelPadding": 0, "titlePadding": -1}},
        "y": {"field": "v", "type": "quantitative", "scale": {"domain": [-1,1], "nice": false}, "axis": {"values": [-1,0,1], "format": "d", "title": ["Correlation","coefficient"], "minExtent": 15}},
        "color": {"field": "k", "type": "nominal", "scale": {"domain": ["a","b","c","d"], "range": ["#9ed3e2","#b06aa0","#92c97e","#f2b06a"]}, "legend": {"orient": "bottom-right", "title": null, "labelFontSize": 6, "labelExpr": "datum.value=='a'?'30s':datum.value=='b'?'60s':datum.value=='c'?'120s':'240s'"}}}},
      {"data": {"values": [{}]}, "mark": {"type": "rule", "strokeDash": [4,3], "color": "#999", "strokeWidth": 0.8}, "encoding": {"y": {"datum": 0.7}}}
    ]},
    {"width": 226, "height": 71, "resolve": {"scale": {"x": "independent", "y": "independent", "color": "independent"}, "axis": {"x": "independent", "y": "independent"}}, "layer": [
      {"data": {"name": "ampA"}, "transform": [{"fold": ["a","b","c","d"], "as": ["k","v"]}], "mark": {"type": "line", "strokeWidth": 0.7, "opacity": 0.85},
       "encoding": {"x": {"field": "f", "type": "quantitative", "scale": {"type": "log", "domain": [0.001,0.1], "range": [0,148], "nice": false}, "axis": {"orient": "bottom", "values": [0.001,0.01,0.1], "labelExpr": "datum.value<0.005?'10⁻³':datum.value<0.05?'10⁻²':'10⁻¹'", "title": "Frequency (Hz)", "titleFont": "Open Sans", "titleFontSize": 11, "tickSize": 2, "labelPadding": 0, "titlePadding": 1}},
        "y": {"field": "v", "type": "quantitative", "scale": {"domain": [0,10], "nice": false}, "axis": {"orient": "left", "values": [0,5,10], "title": "Amplitude (a.u)", "minExtent": 15}},
        "color": {"field": "k", "type": "nominal", "scale": {"domain": ["a","b","c","d"], "range": ["#9ed3e2","#b06aa0","#92c97e","#f2b06a"]}, "legend": null}}},
      {"data": {"name": "barA"}, "mark": {"type": "bar"},
       "encoding": {"x": {"field": "w", "type": "nominal", "sort": ["30","60","120","240"], "scale": {"range": [178,226], "paddingInner": 0.08, "paddingOuter": 0}, "axis": {"orient": "bottom", "title": null, "labelAngle": 0, "ticks": false, "domain": false, "labelFontSize": 7, "labelPadding": 3}},
        "y": {"field": "p", "type": "quantitative", "stack": "zero", "scale": {"domain": [0,100], "nice": false}, "axis": {"orient": "left", "offset": -167, "values": [0,50,100], "title": "% of +/-", "titleFontSize": 11, "labelFontSize": 9, "minExtent": 10}},
        "color": {"field": "s", "type": "nominal", "scale": {"domain": ["pos","neg"], "range": ["#d9001c","#1e3c8a"]}, "legend": null},
        "order": {"field": "s", "sort": "descending"}}}
    ]}
   ]},
  {"title": {"text": "C", "anchor": "start", "frame": "group", "dx": -15, "fontSize": 16, "offset": 8},
   "bounds": "flush", "spacing": 27.5, "resolve": {"scale": {"color": "independent"}},
   "vconcat": [
    {"width": 220, "height": 72, "resolve": {"axis": {"x": "independent"}}, "layer": [
      {"data": {"name": "sigC"}, "transform": [{"fold": ["f","r"], "as": ["k","v"]}], "mark": {"type": "line", "strokeWidth": 0.8},
       "encoding": {"x": {"field": "t", "type": "quantitative", "scale": {"domain": [0,720], "nice": false}, "axis": {"values": [0,100,200,300,400,500,600,700], "labels": false, "title": null}},
        "y": {"field": "v", "type": "quantitative", "scale": {"domain": [-1,1], "nice": false}, "axis": {"values": [-1,0,1], "format": "d", "title": null}},
        "color": {"field": "k", "type": "nominal", "scale": {"domain": ["f","r"], "range": ["#6f7fbd","#e35d66"]}, "legend": {"orient": "bottom-right", "title": null, "labelExpr": "datum.value=='f'?'L FEF':'R FEF'"}}}},
      {"data": {"values": [{"t": 0}]}, "mark": {"type": "point", "opacity": 0},
       "encoding": {"x": {"field": "t", "type": "quantitative", "scale": {"domain": [0,720], "nice": false}, "axis": {"orient": "top", "labels": false, "ticks": false, "domain": false, "title": "L FEF + R FEF", "titleFontSize": 14, "titlePadding": -4, "titleColor": "#111"}}}}
    ]},
    {"width": 220, "height": 72, "layer": [
      {"data": {"name": "corC"}, "transform": [{"fold": ["a","b","c","d"], "as": ["k","v"]}], "mark": {"type": "line", "strokeWidth": 0.8},
       "encoding": {"x": {"field": "t", "type": "quantitative", "scale": {"domain": [0,720], "nice": false}, "axis": {"values": [0,100,200,300,400,500,600,700], "title": "Time (s)", "tickSize": 2, "labelPadding": 0, "titlePadding": -1}},
        "y": {"field": "v", "type": "quantitative", "scale": {"domain": [-1,1], "nice": false}, "axis": {"values": [-1,0,1], "format": "d", "title": null}},
        "color": {"field": "k", "type": "nominal", "scale": {"domain": ["a","b","c","d"], "range": ["#9ed3e2","#b06aa0","#92c97e","#f2b06a"]}, "legend": {"orient": "bottom-right", "title": null, "labelFontSize": 6, "labelExpr": "datum.value=='a'?'30s':datum.value=='b'?'60s':datum.value=='c'?'120s':'240s'"}}}},
      {"data": {"values": [{}]}, "mark": {"type": "rule", "strokeDash": [4,3], "color": "#999", "strokeWidth": 0.8}, "encoding": {"y": {"datum": 0.62}}}
    ]},
    {"width": 226, "height": 71, "resolve": {"scale": {"x": "independent", "y": "independent", "color": "independent"}, "axis": {"x": "independent", "y": "independent"}}, "layer": [
      {"data": {"name": "ampC"}, "transform": [{"fold": ["a","b","c","d"], "as": ["k","v"]}], "mark": {"type": "line", "strokeWidth": 0.7, "opacity": 0.85},
       "encoding": {"x": {"field": "f", "type": "quantitative", "scale": {"type": "log", "domain": [0.001,0.1], "range": [0,148], "nice": false}, "axis": {"orient": "bottom", "values": [0.001,0.01,0.1], "labelExpr": "datum.value<0.005?'10⁻³':datum.value<0.05?'10⁻²':'10⁻¹'", "title": "Frequency (Hz)", "titleFont": "Open Sans", "titleFontSize": 11, "tickSize": 2, "labelPadding": 0, "titlePadding": 1}},
        "y": {"field": "v", "type": "quantitative", "scale": {"domain": [0,10], "nice": false}, "axis": {"orient": "left", "values": [0,5,10], "title": null}},
        "color": {"field": "k", "type": "nominal", "scale": {"domain": ["a","b","c","d"], "range": ["#9ed3e2","#b06aa0","#92c97e","#f2b06a"]}, "legend": null}}},
      {"data": {"name": "barC"}, "mark": {"type": "bar"},
       "encoding": {"x": {"field": "w", "type": "nominal", "sort": ["30","60","120","240"], "scale": {"range": [178,226], "paddingInner": 0.08, "paddingOuter": 0}, "axis": {"orient": "bottom", "title": null, "labelAngle": 0, "ticks": false, "domain": false, "labelFontSize": 7, "labelPadding": 3}},
        "y": {"field": "p", "type": "quantitative", "stack": "zero", "scale": {"domain": [0,100], "nice": false}, "axis": {"orient": "left", "offset": -167, "values": [0,50,100], "title": "% of +/-", "titleFontSize": 11, "labelFontSize": 9, "minExtent": 10}},
        "color": {"field": "s", "type": "nominal", "scale": {"domain": ["pos","neg"], "range": ["#d9001c","#1e3c8a"]}, "legend": null},
        "order": {"field": "s", "sort": "descending"}}}
    ]}
   ]}
 ], "spacing": 3, "resolve": {"scale": {"color": "independent"}}},
 {"hconcat": [
  {"title": {"text": "B", "anchor": "start", "frame": "group", "dx": -51, "fontSize": 16, "offset": -4},
   "bounds": "flush", "spacing": 28.5, "resolve": {"scale": {"color": "independent"}},
   "vconcat": [
    {"width": 220, "height": 72, "resolve": {"axis": {"x": "independent"}}, "layer": [
      {"data": {"name": "sigB"}, "transform": [{"fold": ["f","r"], "as": ["k","v"]}], "mark": {"type": "line", "strokeWidth": 0.8},
       "encoding": {"x": {"field": "t", "type": "quantitative", "scale": {"domain": [0,720], "nice": false}, "axis": {"values": [0,100,200,300,400,500,600,700], "labels": false, "title": null}},
        "y": {"field": "v", "type": "quantitative", "scale": {"domain": [-1,1], "nice": false}, "axis": {"values": [-1,0,1], "format": "d", "title": "% signal change", "minExtent": 15}},
        "color": {"field": "k", "type": "nominal", "scale": {"domain": ["f","r"], "range": ["#6f7fbd","#e35d66"]}, "legend": {"orient": "bottom-right", "title": null, "labelExpr": "datum.value=='f'?'L FEF':'SEF'"}}}},
      {"data": {"values": [{"t": 0}]}, "mark": {"type": "point", "opacity": 0},
       "encoding": {"x": {"field": "t", "type": "quantitative", "scale": {"domain": [0,720], "nice": false}, "axis": {"orient": "top", "labels": false, "ticks": false, "domain": false, "title": "L FEF + SEF", "titleFontSize": 14, "titlePadding": -8, "titleColor": "#111"}}}}
    ]},
    {"width": 220, "height": 71, "layer": [
      {"data": {"name": "corB"}, "transform": [{"fold": ["a","b","c","d"], "as": ["k","v"]}], "mark": {"type": "line", "strokeWidth": 0.8},
       "encoding": {"x": {"field": "t", "type": "quantitative", "scale": {"domain": [0,720], "nice": false}, "axis": {"values": [0,100,200,300,400,500,600,700], "title": "Time (s)", "tickSize": 2, "labelPadding": 0, "titlePadding": -1}},
        "y": {"field": "v", "type": "quantitative", "scale": {"domain": [-1,1], "nice": false}, "axis": {"values": [-1,0,1], "format": "d", "title": ["Correlation","coefficient"], "minExtent": 15}},
        "color": {"field": "k", "type": "nominal", "scale": {"domain": ["a","b","c","d"], "range": ["#9ed3e2","#b06aa0","#92c97e","#f2b06a"]}, "legend": {"orient": "bottom-right", "title": null, "labelFontSize": 6, "labelExpr": "datum.value=='a'?'30s':datum.value=='b'?'60s':datum.value=='c'?'120s':'240s'"}}}},
      {"data": {"values": [{}]}, "mark": {"type": "rule", "strokeDash": [4,3], "color": "#999", "strokeWidth": 0.8}, "encoding": {"y": {"datum": 0.62}}}
    ]},
    {"width": 226, "height": 69, "resolve": {"scale": {"x": "independent", "y": "independent", "color": "independent"}, "axis": {"x": "independent", "y": "independent"}}, "layer": [
      {"data": {"name": "ampB"}, "transform": [{"fold": ["a","b","c","d"], "as": ["k","v"]}], "mark": {"type": "line", "strokeWidth": 0.7, "opacity": 0.85},
       "encoding": {"x": {"field": "f", "type": "quantitative", "scale": {"type": "log", "domain": [0.001,0.1], "range": [0,148], "nice": false}, "axis": {"orient": "bottom", "values": [0.001,0.01,0.1], "labelExpr": "datum.value<0.005?'10⁻³':datum.value<0.05?'10⁻²':'10⁻¹'", "title": "Frequency (Hz)", "titleFont": "Open Sans", "titleFontSize": 11, "tickSize": 2, "labelPadding": 0, "titlePadding": 0}},
        "y": {"field": "v", "type": "quantitative", "scale": {"domain": [0,10], "nice": false}, "axis": {"orient": "left", "values": [0,5,10], "title": "Amplitude (a.u)", "minExtent": 15}},
        "color": {"field": "k", "type": "nominal", "scale": {"domain": ["a","b","c","d"], "range": ["#9ed3e2","#b06aa0","#92c97e","#f2b06a"]}, "legend": null}}},
      {"data": {"name": "barB"}, "mark": {"type": "bar"},
       "encoding": {"x": {"field": "w", "type": "nominal", "sort": ["30","60","120","240"], "scale": {"range": [178,226], "paddingInner": 0.08, "paddingOuter": 0}, "axis": {"orient": "bottom", "title": null, "labelAngle": 0, "ticks": false, "domain": false, "labelFontSize": 7, "labelPadding": 3}},
        "y": {"field": "p", "type": "quantitative", "stack": "zero", "scale": {"domain": [0,100], "nice": false}, "axis": {"orient": "left", "offset": -167, "values": [0,50,100], "title": "% of +/-", "titleFontSize": 11, "labelFontSize": 9, "minExtent": 10}},
        "color": {"field": "s", "type": "nominal", "scale": {"domain": ["pos","neg"], "range": ["#d9001c","#1e3c8a"]}, "legend": null},
        "order": {"field": "s", "sort": "descending"}}}
    ]}
   ]},
  {"title": {"text": "D", "anchor": "start", "frame": "group", "dx": -16, "fontSize": 16, "offset": 4},
   "bounds": "flush", "spacing": 28.5, "resolve": {"scale": {"color": "independent"}},
   "vconcat": [
    {"width": 220, "height": 72, "resolve": {"axis": {"x": "independent"}}, "layer": [
      {"data": {"name": "sigD"}, "transform": [{"fold": ["f","r"], "as": ["k","v"]}], "mark": {"type": "line", "strokeWidth": 0.8},
       "encoding": {"x": {"field": "t", "type": "quantitative", "scale": {"domain": [0,720], "nice": false}, "axis": {"values": [0,100,200,300,400,500,600,700], "labels": false, "title": null}},
        "y": {"field": "v", "type": "quantitative", "scale": {"domain": [-1,1], "nice": false}, "axis": {"values": [-1,0,1], "format": "d", "title": null}},
        "color": {"field": "k", "type": "nominal", "scale": {"domain": ["f","r"], "range": ["#6f7fbd","#e35d66"]}, "legend": {"orient": "bottom-right", "title": null, "labelExpr": "datum.value=='f'?'L FEF':'L PGM'"}}}},
      {"data": {"values": [{"t": 0}]}, "mark": {"type": "point", "opacity": 0},
       "encoding": {"x": {"field": "t", "type": "quantitative", "scale": {"domain": [0,720], "nice": false}, "axis": {"orient": "top", "labels": false, "ticks": false, "domain": false, "title": "L FEF + L PGM", "titleFontSize": 14, "titlePadding": -8, "titleColor": "#111"}}}}
    ]},
    {"width": 220, "height": 71, "layer": [
      {"data": {"name": "corD"}, "transform": [{"fold": ["a","b","c","d"], "as": ["k","v"]}], "mark": {"type": "line", "strokeWidth": 0.8},
       "encoding": {"x": {"field": "t", "type": "quantitative", "scale": {"domain": [0,720], "nice": false}, "axis": {"values": [0,100,200,300,400,500,600,700], "title": "Time (s)", "tickSize": 2, "labelPadding": 0, "titlePadding": -1}},
        "y": {"field": "v", "type": "quantitative", "scale": {"domain": [-1,1], "nice": false}, "axis": {"values": [-1,0,1], "format": "d", "title": null}},
        "color": {"field": "k", "type": "nominal", "scale": {"domain": ["a","b","c","d"], "range": ["#9ed3e2","#b06aa0","#92c97e","#f2b06a"]}, "legend": {"orient": "bottom-right", "title": null, "labelFontSize": 6, "labelExpr": "datum.value=='a'?'30s':datum.value=='b'?'60s':datum.value=='c'?'120s':'240s'"}}}},
      {"data": {"values": [{}]}, "mark": {"type": "rule", "strokeDash": [4,3], "color": "#999", "strokeWidth": 0.8}, "encoding": {"y": {"datum": 0.44}}}
    ]},
    {"width": 226, "height": 69, "resolve": {"scale": {"x": "independent", "y": "independent", "color": "independent"}, "axis": {"x": "independent", "y": "independent"}}, "layer": [
      {"data": {"name": "ampD"}, "transform": [{"fold": ["a","b","c","d"], "as": ["k","v"]}], "mark": {"type": "line", "strokeWidth": 0.7, "opacity": 0.85},
       "encoding": {"x": {"field": "f", "type": "quantitative", "scale": {"type": "log", "domain": [0.001,0.1], "range": [0,148], "nice": false}, "axis": {"orient": "bottom", "values": [0.001,0.01,0.1], "labelExpr": "datum.value<0.005?'10⁻³':datum.value<0.05?'10⁻²':'10⁻¹'", "title": "Frequency (Hz)", "titleFont": "Open Sans", "titleFontSize": 11, "tickSize": 2, "labelPadding": 0, "titlePadding": 0}},
        "y": {"field": "v", "type": "quantitative", "scale": {"domain": [0,10], "nice": false}, "axis": {"orient": "left", "values": [0,5,10], "title": null}},
        "color": {"field": "k", "type": "nominal", "scale": {"domain": ["a","b","c","d"], "range": ["#9ed3e2","#b06aa0","#92c97e","#f2b06a"]}, "legend": null}}},
      {"data": {"name": "barD"}, "mark": {"type": "bar"},
       "encoding": {"x": {"field": "w", "type": "nominal", "sort": ["30","60","120","240"], "scale": {"range": [178,226], "paddingInner": 0.08, "paddingOuter": 0}, "axis": {"orient": "bottom", "title": null, "labelAngle": 0, "ticks": false, "domain": false, "labelFontSize": 7, "labelPadding": 3}},
        "y": {"field": "p", "type": "quantitative", "stack": "zero", "scale": {"domain": [0,100], "nice": false}, "axis": {"orient": "left", "offset": -167, "values": [0,50,100], "title": "% of +/-", "titleFontSize": 11, "labelFontSize": 9, "minExtent": 10}},
        "color": {"field": "s", "type": "nominal", "scale": {"domain": ["pos","neg"], "range": ["#d9001c","#1e3c8a"]}, "legend": null},
        "order": {"field": "s", "sort": "descending"}}}
    ]}
   ]}
 ], "spacing": 3, "resolve": {"scale": {"color": "independent"}}}
],
"spacing": -5,
"resolve": {"scale": {"color": "independent"}},
"config": {
 "font": "Liberation Sans",
 "view": {"stroke": null},
 "axis": {"grid": false, "domainColor": "#888", "tickColor": "#888", "labelColor": "#222", "titleColor": "#222", "labelFontSize": 10, "titleFontSize": 12, "titleFontWeight": "normal", "tickSize": 3, "labelPadding": 2, "titlePadding": 3},
 "axisY": {"labelFontSize": 11, "titleFontSize": 13, "titlePadding": 2},
 "legend": {"symbolType": "M-2.5,0H2.5", "symbolSize": 25, "symbolStrokeWidth": 1, "labelFontSize": 6.5, "labelColor": "#333", "rowPadding": 0, "padding": 0, "offset": 2, "labelOffset": 6},
 "title": {"fontWeight": "normal", "color": "#111"}
}
}
